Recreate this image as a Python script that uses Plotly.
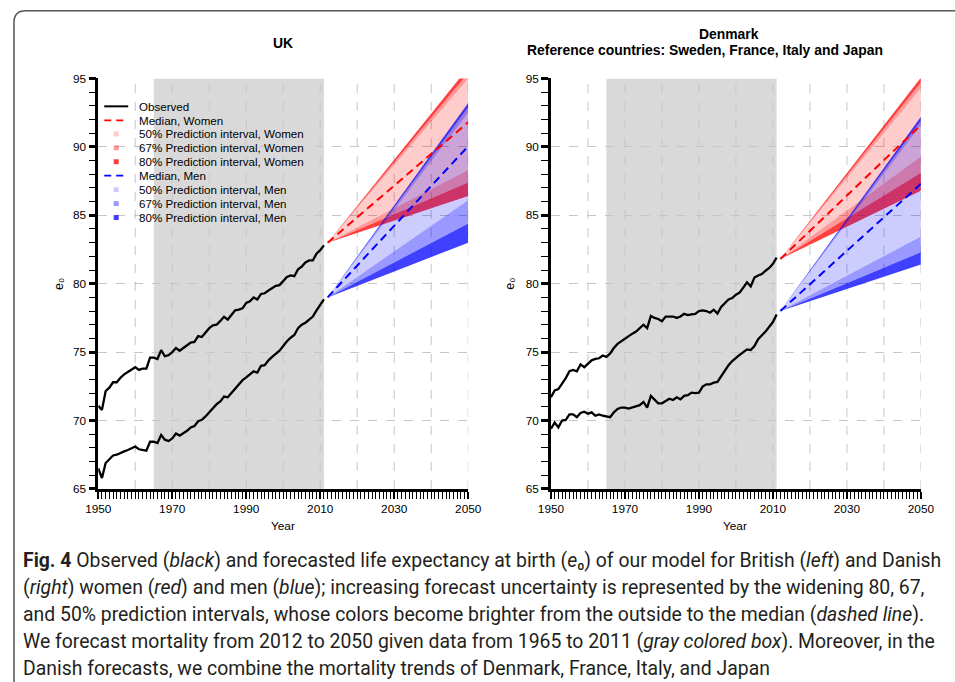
import plotly.graph_objects as go

# ---------------- data ----------------
years_obs = list(range(1950, 2012))

uk_women = [71.07, 70.78, 72.16, 72.4, 72.8, 72.8, 73.13, 73.38, 73.55, 73.7,
            73.9, 73.7, 73.8, 73.8, 74.6, 74.6, 74.5, 75.15, 74.7, 74.78,
            75.0, 75.3, 75.1, 75.3, 75.5, 75.7, 75.75, 76.17, 76.1, 76.4,
            76.75, 76.95, 77.0, 77.28, 77.58, 77.38, 77.75, 78.06, 78.1, 78.2,
            78.6, 78.72, 79.0, 78.85, 79.25, 79.3, 79.5, 79.7, 79.85, 79.9,
            80.2, 80.5, 80.6, 80.55, 81.05, 81.25, 81.55, 81.7, 81.7, 82.2,
            82.45, 82.8]
uk_men = [66.5, 65.8, 66.9, 67.2, 67.45, 67.5, 67.65, 67.75, 67.85, 68.0,
          68.1, 67.9, 67.85, 67.8, 68.45, 68.45, 68.35, 68.95, 68.6, 68.5,
          68.7, 69.05, 68.9, 69.05, 69.25, 69.5, 69.6, 69.95, 70.05, 70.3,
          70.6, 70.95, 71.2, 71.4, 71.75, 71.7, 72.0, 72.3, 72.6, 72.95,
          73.15, 73.35, 73.6, 73.5, 74.0, 74.05, 74.4, 74.65, 74.85, 75.1,
          75.45, 75.8, 76.05, 76.25, 76.75, 77.0, 77.15, 77.35, 77.6, 78.05,
          78.45, 78.85]
dk_women = [71.7, 72.2, 72.3, 72.7, 73.1, 73.6, 73.7, 73.6, 74.1, 73.9,
            74.15, 74.4, 74.5, 74.55, 74.75, 74.65, 74.9, 75.3, 75.6, 75.8,
            75.95, 76.2, 76.35, 76.5, 76.75, 77.0, 76.75, 77.65, 77.5, 77.42,
            77.26, 77.6, 77.6, 77.6, 77.5, 77.6, 77.8, 77.7, 77.75, 77.8,
            78.0, 78.05, 78.0, 77.88, 78.1, 77.82, 78.3, 78.55, 78.85, 78.95,
            79.2, 79.35, 79.75, 80.1, 79.8, 80.45, 80.6, 80.7, 80.95, 81.15,
            81.45, 81.9]
dk_men = [69.4, 69.85, 69.5, 70.0, 70.05, 70.45, 70.45, 70.25, 70.55, 70.65,
          70.5, 70.6, 70.35, 70.45, 70.35, 70.3, 70.25, 70.6, 70.85, 70.95,
          70.95, 70.88, 70.95, 71.07, 71.12, 71.36, 70.95, 71.8, 71.55, 71.26,
          71.26, 71.45, 71.6, 71.5, 71.7, 71.55, 71.8, 71.85, 72.04, 72.0,
          72.04, 72.48, 72.65, 72.65, 72.77, 72.82, 73.25, 73.7, 74.05, 74.35,
          74.6, 74.8, 75.0, 75.2, 75.15, 75.45, 75.95, 76.2, 76.5, 76.85,
          77.2, 77.75]

fc_years = [2012, 2050]
# UK forecasts (start, end)
uk_w_med = [83.0, 91.8]
uk_w_lo50, uk_w_hi50 = [83.0, 88.3], [83.0, 95.0]
uk_w_lo67, uk_w_hi67 = [83.0, 87.4], [83.0, 95.4]
uk_w_lo80, uk_w_hi80 = [83.0, 86.4], [83.0, 95.8]
uk_m_med = [79.0, 90.05]
uk_m_lo50, uk_m_hi50 = [79.0, 86.1], [79.0, 92.5]
uk_m_lo67, uk_m_hi67 = [79.0, 84.4], [79.0, 92.9]
uk_m_lo80, uk_m_hi80 = [79.0, 83.0], [79.0, 93.2]
# Denmark forecasts
dk_w_med = [81.8, 91.6]
dk_w_lo50, dk_w_hi50 = [81.8, 89.3], [81.8, 94.3]
dk_w_lo67, dk_w_hi67 = [81.8, 88.1], [81.8, 94.7]
dk_w_lo80, dk_w_hi80 = [81.8, 86.8], [81.8, 95.06]
dk_m_med = [78.0, 87.3]
dk_m_lo50, dk_m_hi50 = [78.0, 83.45], [78.0, 91.6]
dk_m_lo67, dk_m_hi67 = [78.0, 82.3], [78.0, 91.9]
dk_m_lo80, dk_m_hi80 = [78.0, 81.4], [78.0, 92.2]

x_tickvals = [1950, 1970, 1990, 2010, 2030, 2050]
x_gridvals = list(range(1960, 2051, 10))
y_tickvals = [65, 70, 75, 80, 85, 90, 95]

legend_labels = ["Observed", "Median, Women", "50% Prediction interval, Women",
                 "67% Prediction interval, Women", "80% Prediction interval, Women",
                 "Median, Men", "50% Prediction interval, Men",
                 "67% Prediction interval, Men", "80% Prediction interval, Men"]

caption_lines = [
    "<b>Fig. 4</b> Observed (<i>black</i>) and forecasted life expectancy at birth (<i>e</i>\u2080) of our model for British (<i>left</i>) and Danish",
    "(<i>right</i>) women (<i>red</i>) and men (<i>blue</i>); increasing forecast uncertainty is represented by the widening 80, 67,",
    "and 50% prediction intervals, whose colors become brighter from the outside to the median (<i>dashed line</i>).",
    "We forecast mortality from 2012 to 2050 given data from 1965 to 2011 (<i>gray colored box</i>). Moreover, in the",
    "Danish forecasts, we combine the mortality trends of Denmark, France, Italy, and Japan",
]

# ---------------- figure ----------------
W, H = 955, 682
FONT = "Liberation Sans, Arial, sans-serif"
CAP_FONT = "Roboto, sans-serif"
RED = (255, 0, 0)
BLUE = (0, 0, 255)
ALPHA = {50: 0.2, 67: 0.4, 80: 0.75}
GRID = "#c6c6c6"
DASH = "8px,5px"

# placement helpers: target picture pixel -> paper fraction (compensates page framing)
SX, OX, SY, OY = 0.9745, 11.5, 0.983, 6.3


def pgx(X):
    return (X - OX) / SX


def pgy(Y):
    return (Y - OY) / SY


def px(X):
    return pgx(X) / W


def py(Y):
    return 1 - pgy(Y) / H


def rgba(c, a):
    return f"rgba({c[0]},{c[1]},{c[2]},{a})"


fig = go.Figure()


def poly(xa, ya, lo, hi, col):
    fig.add_trace(go.Scatter(x=fc_years + fc_years[::-1], y=hi + lo[::-1],
                             xaxis=xa, yaxis=ya, mode="lines", fill="toself",
                             fillcolor=col, line=dict(width=0), hoverinfo="skip",
                             showlegend=False))


def add_panel(xa, ya, obs_w, obs_m, w, m):
    for sers, c in ((w, RED), (m, BLUE)):
        med, lo50, hi50, lo67, hi67, lo80, hi80 = sers
        poly(xa, ya, lo50, hi50, rgba(c, ALPHA[50]))
        poly(xa, ya, hi50, hi67, rgba(c, ALPHA[67]))
        poly(xa, ya, lo67, lo50, rgba(c, ALPHA[67]))
        poly(xa, ya, hi67, hi80, rgba(c, ALPHA[80]))
        poly(xa, ya, lo80, lo67, rgba(c, ALPHA[80]))
    for sers, c in ((w, "#ff0000"), (m, "#0000ff")):
        fig.add_trace(go.Scatter(x=fc_years, y=sers[0], xaxis=xa, yaxis=ya,
                                 mode="lines", line=dict(color=c, width=2, dash=DASH),
                                 hoverinfo="skip", showlegend=False))
    for obs in (obs_w, obs_m):
        fig.add_trace(go.Scatter(x=years_obs, y=obs, xaxis=xa, yaxis=ya, mode="lines",
                                 line=dict(color="black", width=2.3), hoverinfo="skip",
                                 showlegend=False))


add_panel("x", "y", uk_women, uk_men,
          (uk_w_med, uk_w_lo50, uk_w_hi50, uk_w_lo67, uk_w_hi67, uk_w_lo80, uk_w_hi80),
          (uk_m_med, uk_m_lo50, uk_m_hi50, uk_m_lo67, uk_m_hi67, uk_m_lo80, uk_m_hi80))
add_panel("x2", "y2", dk_women, dk_men,
          (dk_w_med, dk_w_lo50, dk_w_hi50, dk_w_lo67, dk_w_hi67, dk_w_lo80, dk_w_hi80),
          (dk_m_med, dk_m_lo50, dk_m_hi50, dk_m_lo67, dk_m_hi67, dk_m_lo80, dk_m_hi80))

ydom = [py(490), py(78)]
xdom1 = [px(97), px(468)]
xdom2 = [px(551), px(922)]

tickfont = dict(family=FONT, size=11.8, color="black")
xcommon = dict(range=[1950, 2050], tickmode="array", tickvals=x_tickvals,
               ticks="outside", ticklen=7, tickwidth=1.5, tickcolor="black",
               showline=True, linewidth=2.5, linecolor="black",
               showgrid=False, zeroline=False, tickfont=tickfont,
               minor=dict(tickmode="linear", tick0=1950, dtick=1, ticks="outside",
                          ticklen=7, tickwidth=1, tickcolor="black", showgrid=False),
               fixedrange=True)
ycommon = dict(range=[65, 95], tickmode="array", tickvals=y_tickvals,
               ticks="outside", ticklen=7, tickwidth=2.5, tickcolor="black",
               showline=True, linewidth=2.5, linecolor="black",
               showgrid=True, gridcolor=GRID, griddash="dash", gridwidth=1,
               zeroline=False, tickfont=tickfont,
               minor=dict(tickmode="linear", tick0=65, dtick=1, ticks="outside",
                          ticklen=7, tickwidth=1.2, tickcolor="black", showgrid=False),
               fixedrange=True)

fig.update_layout(
    width=W, height=H, margin=dict(l=0, r=0, t=0, b=0),
    paper_bgcolor="white", plot_bgcolor="white", showlegend=False,
    font=dict(family=FONT, color="black"),
    xaxis=dict(domain=xdom1, anchor="y", **xcommon),
    yaxis=dict(domain=ydom, anchor="x", **ycommon),
    xaxis2=dict(domain=xdom2, anchor="y2", **xcommon),
    yaxis2=dict(domain=ydom, anchor="x2", **ycommon),
)

# gray boxes for fitting period + vertical dashed grid
for xr, yr in (("x", "y"), ("x2", "y2")):
    fig.add_shape(type="rect", xref=xr, yref=yr, x0=1965, x1=2011, y0=65, y1=95,
                  fillcolor="#d9d9d9", line=dict(width=0), layer="below")
    for gx in x_gridvals:
        fig.add_shape(type="line", xref=xr, yref=yr, x0=gx, x1=gx, y0=65, y1=95,
                      line=dict(color=GRID, width=1, dash="dash"), layer="below")

# outer frame (as far left/up as the page allows)
fx0, fyt = 1.0 / W, 1 - 3.8 / H
rx, ry = 12 / W, 12 / H
fig.add_shape(type="path", xref="paper", yref="paper",
              path=f"M {fx0},-0.2 L {fx0},{fyt - ry} Q {fx0},{fyt} {fx0 + rx},{fyt} L 1.2,{fyt}",
              line=dict(color="#555555", width=1.5))

ann = []
# titles
ann.append(dict(x=px(282), y=py(42), text="<b>UK</b>", font=dict(size=13.9)))
ann.append(dict(x=px(730), y=py(33), text="<b>Denmark</b>", font=dict(size=13.9)))
ann.append(dict(x=px(705), y=py(49),
                text="<b>Reference countries: Sweden, France, Italy and Japan</b>",
                font=dict(size=13.9)))
# axis titles
for xc in (282, 736):
    ann.append(dict(x=px(xc), y=py(527), text="Year", font=dict(size=11.8)))
for xc in (57, 510):
    ann.append(dict(x=px(xc), y=py(284), text="e\u2080", textangle=-90, font=dict(size=12.5)))

# manual legend
row_y = [106, 120, 133.7, 147.6, 161.6, 175.6, 189.6, 203.6, 217.6]
sym = [("line", "black", "solid"), ("line", "#ff0000", "dash"),
       ("sq", rgba(RED, ALPHA[50]), None), ("sq", rgba(RED, ALPHA[67]), None),
       ("sq", rgba(RED, ALPHA[80]), None), ("line", "#0000ff", "dash"),
       ("sq", rgba(BLUE, ALPHA[50]), None), ("sq", rgba(BLUE, ALPHA[67]), None),
       ("sq", rgba(BLUE, ALPHA[80]), None)]
for yy, (kind, col, dash), lab in zip(row_y, sym, legend_labels):
    if kind == "line":
        fig.add_shape(type="line", xref="paper", yref="paper", x0=px(103), x1=px(127),
                      y0=py(yy), y1=py(yy),
                      line=dict(color=col, width=2 if dash == "solid" else 1.8,
                                dash="solid" if dash == "solid" else "7px,5px"))
    else:
        fig.add_shape(type="rect", xref="paper", yref="paper", x0=px(112.5), x1=px(117.5),
                      y0=py(yy + 2.5), y1=py(yy - 2.5), fillcolor=col, line=dict(width=0))
    ann.append(dict(x=px(136), y=py(yy), text=lab, xanchor="left", font=dict(size=11.6)))

# caption
cap_y = [562, 589, 616, 643, 670]
for yy, line in zip(cap_y, caption_lines):
    ann.append(dict(x=px(20), y=py(yy), text=line, xanchor="left",
                    font=dict(family=CAP_FONT, size=19.4, color="#231f20")))

for a in ann:
    a.setdefault("xref", "paper")
    a.setdefault("yref", "paper")
    a.setdefault("showarrow", False)
    a.setdefault("xanchor", "center")
    a.setdefault("yanchor", "middle")
    f = a.setdefault("font", {})
    f.setdefault("family", FONT)
    f.setdefault("color", "black")
fig.update_layout(annotations=ann)

fig.write_html("out.html", config={"displayModeBar": False},
               post_script="document.body.style.margin='0px';document.body.style.overflow='hidden';")
